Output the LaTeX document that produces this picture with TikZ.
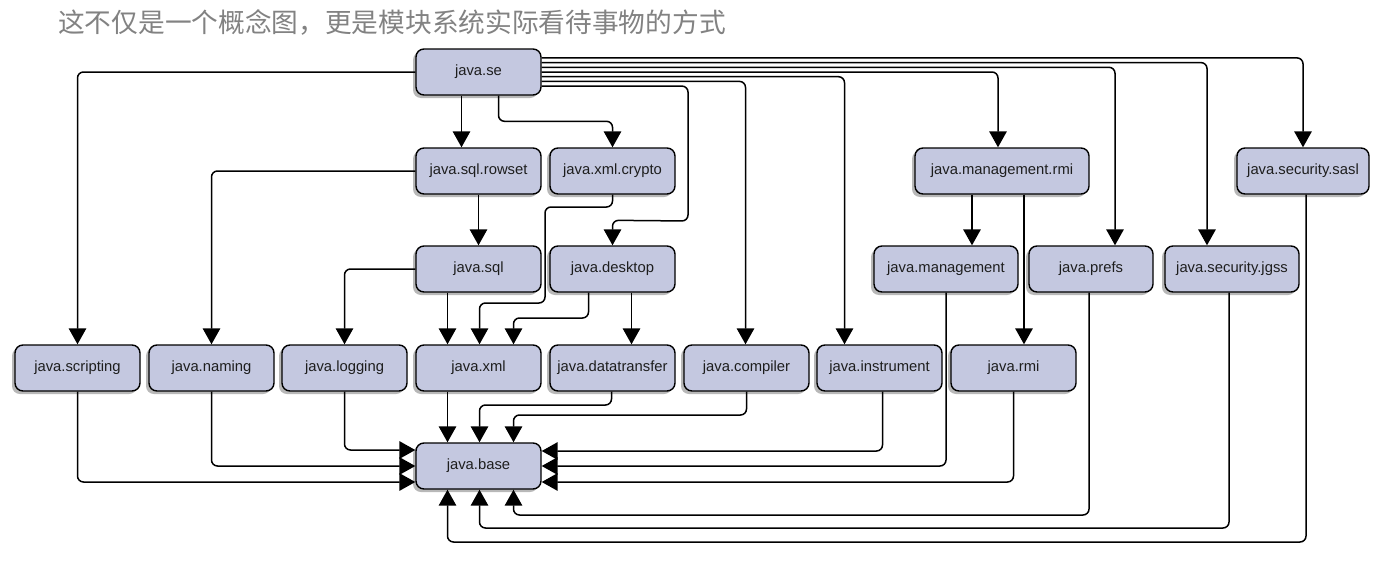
\documentclass[tikz,border=0pt]{standalone}
\usepackage{fontspec}
\newfontfamily\labelfont{Liberation Sans}
\newfontfamily\cjkfont{Noto Sans CJK SC}
\usetikzlibrary{arrows.meta,shadows}
\definecolor{boxfill}{RGB}{196,200,224}
\definecolor{titlegray}{RGB}{130,130,130}
\definecolor{labeltext}{RGB}{30,30,30}
\begin{document}
\begin{tikzpicture}[x=1pt,y=-1pt,
  mod/.style={draw=black, line width=1.4pt, rounded corners=8pt, fill=boxfill,
    minimum width=125pt, minimum height=46pt, inner sep=0pt,
    font=\labelfont\fontsize{14.8}{17}\selectfont, text=labeltext,
    drop shadow={shadow xshift=-3pt, shadow yshift=-3pt, fill=black!28, opacity=1}},
  arr/.style={line width=1.5pt, -{Triangle[width=17.5pt,length=16pt]}},
  rc/.style={rounded corners=6pt}]
\useasboundingbox (0,0) rectangle (1391,562);
\fill[white] (0,0) rectangle (1391,562);

\node[anchor=west, text=titlegray, font=\cjkfont\fontsize{26.7}{30}\selectfont, inner sep=0pt] (title) at (58,22) {这不仅是一个概念图，更是模块系统实际看待事物的方式};

% nodes
\node[mod] (se) at (478.5,72) {java.se};
\node[mod] (rowset) at (478.5,171) {java.sql.rowset};
\node[mod] (crypto) at (612.5,171) {java.xml.crypto};
\node[mod] (sql) at (478.5,269) {java.sql};
\node[mod] (desktop) at (612.5,269) {java.desktop};
\node[mod] (scripting) at (77.5,368) {java.scripting};
\node[mod] (naming) at (211.5,368) {java.naming};
\node[mod] (logging) at (344.5,368) {java.logging};
\node[mod] (xml) at (478.5,368) {java.xml};
\node[mod] (datatransfer) at (612.5,368) {java.datatransfer};
\node[mod] (compiler) at (746.5,368) {java.compiler};
\node[mod] (instrument) at (879.5,368) {java.instrument};
\node[mod] (rmi) at (1013.5,368) {java.rmi};
\node[mod] (base) at (478.5,466) {java.base};
\node[mod, minimum width=174pt] (mgmtrmi) at (1002,171) {java.management.rmi};
\node[mod, minimum width=144pt] (management) at (946,269) {java.management};
\node[mod, minimum width=124pt] (prefs) at (1091,269) {java.prefs};
\node[mod, minimum width=134pt] (jgss) at (1232,269) {java.security.jgss};
\node[mod, minimum width=132pt] (sasl) at (1303,171) {java.security.sasl};

% from java.se
\draw[arr] {[rc] (se.west) -| (scripting.north)};
\draw[arr] ([xshift=-17pt]se.south) -- ([xshift=-17pt]rowset.north);
\draw[arr] {[rc] ([xshift=20pt]se.south) |- ([yshift=26pt]crypto.north) -- (crypto.north)};
\draw[arr] {[rc] ([yshift=14.1pt]se.east) -| (sasl.north)};
\draw[arr] {[rc] ([yshift=9.4pt]se.east) -| ([xshift=-25pt]jgss.north)};
\draw[arr] {[rc] ([yshift=4.7pt]se.east) -| ([xshift=24pt]prefs.north)};
\draw[arr] {[rc] (se.east) -| ([xshift=-4pt]mgmtrmi.north)};
\draw[arr] {[rc] ([yshift=-4.7pt]se.east) -| ([xshift=-35pt]instrument.north)};
\draw[arr] {[rc] ([yshift=-9.4pt]se.east) -| ([xshift=-1pt]compiler.north)};
\draw[arr] {[rc] ([yshift=-14.1pt]se.east) -| (688,221) -- ([yshift=25pt]desktop.north) -- (desktop.north)};

% second level
\draw[arr] {[rc] (rowset.west) -| (naming.north)};
\draw[arr] (rowset.south) -- (sql.north);
\draw[arr] {[rc] (crypto.south) |- (545,207) |- (479.5,303) -- ([xshift=1pt]xml.north)};
\draw[arr] {[rc] (sql.west) -| (logging.north)};
\draw[arr] ([xshift=-31pt]sql.south) -- ([xshift=-31pt]xml.north);
\draw[arr] {[rc] ([xshift=-24pt]desktop.south) |- (513.5,318) -- ([xshift=35pt]xml.north)};
\draw[arr] ([xshift=19pt]desktop.south) -- ([xshift=19pt]datatransfer.north);
\draw[arr] ([xshift=-30pt]mgmtrmi.south) -- ([xshift=26pt]management.north);
\draw[arr] ([xshift=22pt]mgmtrmi.south) -- ([xshift=10.5pt]rmi.north);

% into java.base
\draw[arr] ([xshift=-31pt]xml.south) -- ([xshift=-31pt]base.north);
\draw[arr] {[rc] ([xshift=-1pt]datatransfer.south) |- (479.5,405) -- ([xshift=1pt]base.north)};
\draw[arr] {[rc] (compiler.south) |- (513.5,415) -- ([xshift=35pt]base.north)};
\draw[arr] {[rc] (logging.south) |- ([yshift=16pt]base.west)};
\draw[arr] {[rc] (naming.south) |- (base.west)};
\draw[arr] {[rc] (scripting.south) |- ([yshift=-16pt]base.west)};
\draw[arr] {[rc] ([xshift=3pt]instrument.south) |- ([yshift=15pt]base.east)};
\draw[arr] {[rc] (management.south) |- (base.east)};
\draw[arr] {[rc] (rmi.south) |- ([yshift=-16pt]base.east)};
\draw[arr] {[rc] ([xshift=-2pt]prefs.south) |- (513.5,515) -- ([xshift=35pt]base.south)};
\draw[arr] {[rc] ([xshift=-3pt]jgss.south) |- (479.5,528) -- ([xshift=1pt]base.south)};
\draw[arr] {[rc] ([xshift=3pt]sasl.south) |- (447.5,542) -- ([xshift=-31pt]base.south)};
\end{tikzpicture}
\end{document}
